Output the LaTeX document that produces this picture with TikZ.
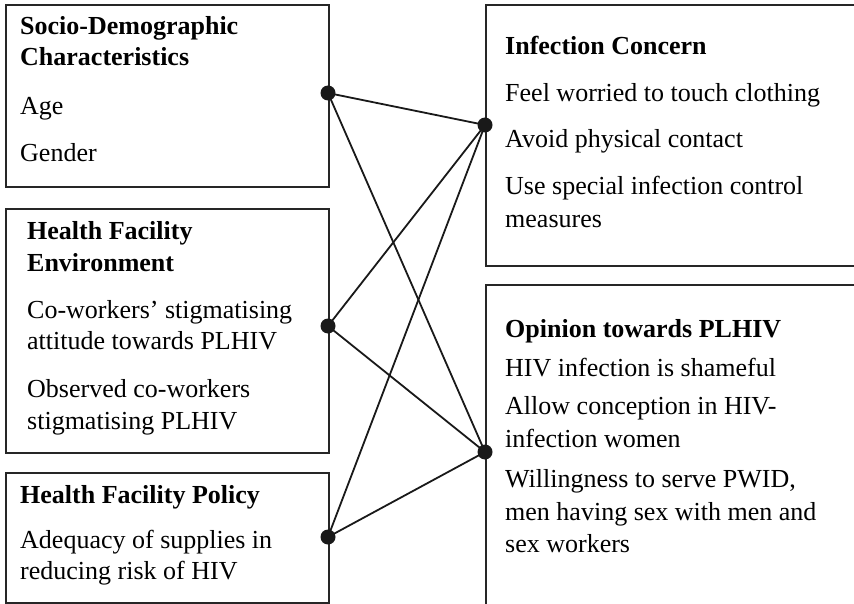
\documentclass[tikz,border=0pt]{standalone}
\usepackage{fontspec}
\setmainfont{Liberation Serif}
\begin{document}
\begin{tikzpicture}[x=1pt,y=-1pt,
  framebox/.style={draw=black!85,line width=1.8pt,rectangle,inner sep=0pt,anchor=north west},
  boxtext/.style={anchor=base west,inner sep=0pt,text width=345pt,align=flush left,
    font=\fontsize{26}{32}\selectfont},
  joint/.style={circle,fill=black!90,inner sep=0pt,minimum size=15pt},
  link/.style={draw=black!90,line width=1.8pt}]
\useasboundingbox (0,0) rectangle (854,604);

% left column: factor boxes
\node[framebox,minimum width=323pt,minimum height=182pt] (sd) at (5,4) {};
\node[boxtext] (sdtext) at (20,35)
  {\textbf{Socio-Demographic}\\[-1pt]\textbf{Characteristics}\\[17pt]Age\\[15pt]Gender};

\node[framebox,minimum width=323pt,minimum height=244pt] (hfe) at (5,208) {};
\node[boxtext] (hfetext) at (27,240)
  {\textbf{Health Facility}\\\textbf{Environment}\\[15pt]Co-workers’ stigmatising\\[-1pt]attitude towards PLHIV\\[16pt]Observed co-workers\\stigmatising PLHIV};

\node[framebox,minimum width=323pt,minimum height=130pt] (hfp) at (5,472) {};
\node[boxtext] (hfptext) at (20,503)
  {\textbf{Health Facility Policy}\\[13pt]Adequacy of supplies in\\[-1pt]reducing risk of HIV};

% right column: outcome boxes, running past the right edge
\node[framebox,minimum width=400pt,minimum height=261pt] (ic) at (485,4) {};
\node[boxtext] (ictext) at (505,55)
  {\textbf{Infection Concern}\\[15pt]Feel worried to touch clothing\\[14pt]Avoid physical contact\\[15pt]Use special infection control\\[1pt]measures};

\node[framebox,minimum width=400pt,minimum height=360pt] (op) at (485,284) {};
\node[boxtext] (optext) at (505,337)
  {\textbf{Opinion towards PLHIV}\\[7pt]HIV infection is shameful\\[6pt]Allow conception in HIV-\\[1pt]infection women\\[8pt]Willingness to serve PWID,\\[1pt]men having sex with men and\\sex workers};

% joints on the box edges
\node[joint] (jsd) at (328,93) {};
\node[joint] (jhfe) at (328,326) {};
\node[joint] (jhfp) at (328,537) {};
\node[joint] (jic) at (485,125) {};
\node[joint] (jop) at (485,452) {};

% every factor links to both outcomes
\foreach \f in {jsd,jhfe,jhfp}{
  \draw[link] (\f.center) -- (jic.center);
  \draw[link] (\f.center) -- (jop.center);
}
\end{tikzpicture}
\end{document}
